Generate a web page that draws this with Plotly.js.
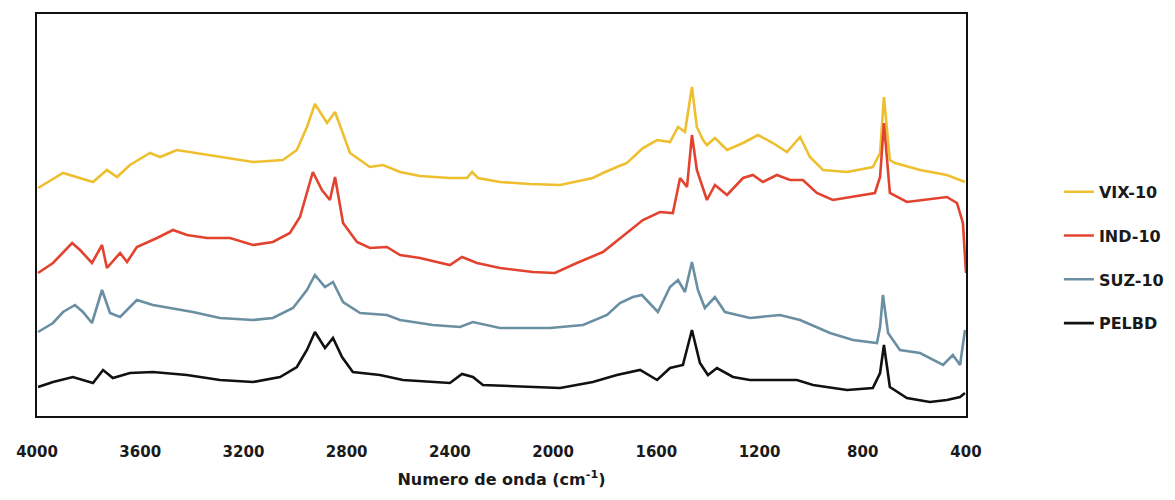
<!DOCTYPE html>
<html>
<head>
<meta charset="utf-8">
<script src="https://cdn.plot.ly/plotly-3.0.1.min.js"></script>
<style>
  html, body { margin: 0; padding: 0; background: #ffffff; }
  #chart { width: 1175px; height: 500px; }
</style>
</head>
<body>
<div id="chart"></div>
<script>
// FTIR spectra, stacked with vertical offsets (arbitrary intensity units)

const vixWn = [3996, 3899, 3783, 3729, 3690, 3640, 3562, 3523, 3458, 3407, 3291, 3163, 3047, 2993, 2954, 2923, 2876, 2845, 2787, 2710, 2659, 2593, 2516, 2400, 2334, 2314, 2291, 2206, 2090, 1973, 1846, 1807, 1753, 1714, 1652, 1597, 1547, 1516, 1489, 1462, 1443, 1419, 1404, 1373, 1326, 1264, 1206, 1148, 1094, 1043, 1005, 954, 861, 761, 733, 718, 695, 675, 578, 474, 404];
const vixVal = [57.0, 60.75, 58.5, 61.5, 59.75, 62.75, 65.75, 64.75, 66.5, 66.0, 64.75, 63.5, 64.0, 66.5, 72.25, 78.0, 73.25, 76.0, 65.75, 62.25, 62.75, 61.0, 60.0, 59.5, 59.5, 61.0, 59.5, 58.5, 58.0, 57.75, 59.5, 60.75, 62.25, 63.25, 67.0, 69.0, 68.5, 72.25, 71.0, 82.25, 72.25, 69.0, 67.75, 69.5, 66.5, 68.25, 70.25, 68.25, 66.0, 69.75, 64.75, 61.5, 61.0, 62.25, 65.75, 79.75, 64.0, 63.25, 61.5, 60.25, 58.5];

const indWn = [3996, 3938, 3864, 3833, 3787, 3748, 3729, 3678, 3651, 3613, 3535, 3473, 3419, 3341, 3252, 3163, 3086, 3020, 2981, 2950, 2931, 2896, 2865, 2845, 2814, 2760, 2710, 2644, 2593, 2516, 2400, 2353, 2295, 2206, 2078, 1993, 1908, 1807, 1714, 1652, 1586, 1536, 1508, 1481, 1462, 1443, 1404, 1373, 1326, 1264, 1226, 1187, 1133, 1082, 1032, 978, 916, 838, 753, 733, 718, 695, 629, 567, 474, 435, 412, 400];
const indVal = [35.75, 38.25, 43.25, 41.5, 38.25, 42.75, 37.0, 40.75, 38.5, 42.25, 44.5, 46.5, 45.25, 44.5, 44.5, 42.75, 43.5, 45.75, 49.75, 56.5, 61.0, 56.5, 54.0, 59.75, 48.25, 43.5, 42.0, 42.25, 40.25, 39.5, 37.75, 39.75, 38.25, 37.0, 36.0, 35.75, 38.25, 41.0, 45.75, 49.0, 51.0, 50.75, 59.5, 57.25, 70.25, 61.5, 54.0, 57.75, 55.25, 59.5, 60.25, 58.5, 60.25, 59.0, 59.0, 55.75, 54.0, 54.75, 55.75, 59.75, 73.25, 55.75, 53.5, 54.0, 54.75, 53.25, 48.25, 35.75];

const suzWn = [3996, 3938, 3899, 3853, 3822, 3787, 3748, 3717, 3678, 3640, 3613, 3551, 3485, 3396, 3291, 3163, 3086, 3008, 2954, 2923, 2884, 2853, 2814, 2748, 2644, 2593, 2466, 2361, 2311, 2206, 2012, 1884, 1791, 1741, 1691, 1656, 1594, 1547, 1516, 1489, 1462, 1439, 1412, 1373, 1334, 1237, 1121, 1043, 927, 838, 745, 733, 722, 702, 656, 578, 489, 451, 423, 404];
const suzVal = [21.0, 23.25, 26.0, 27.75, 26.0, 23.25, 31.5, 25.75, 24.75, 27.25, 29.0, 27.75, 27.0, 26.0, 24.5, 24.0, 24.5, 27.0, 31.5, 35.25, 32.25, 33.5, 28.5, 25.75, 25.25, 24.0, 22.75, 22.25, 23.5, 22.0, 22.0, 22.75, 25.25, 28.25, 29.75, 30.25, 26.0, 32.25, 34.0, 31.0, 38.5, 31.5, 27.0, 29.75, 26.0, 24.5, 25.25, 24.0, 20.75, 19.0, 18.25, 22.25, 30.25, 20.75, 16.5, 15.75, 12.75, 15.25, 12.75, 21.5];

const pelbdWn = [3996, 3938, 3861, 3783, 3744, 3706, 3640, 3551, 3419, 3291, 3163, 3058, 2993, 2954, 2923, 2884, 2853, 2818, 2776, 2671, 2582, 2400, 2353, 2311, 2272, 2078, 1973, 1846, 1753, 1663, 1597, 1547, 1497, 1462, 1431, 1400, 1365, 1303, 1237, 1055, 993, 861, 761, 733, 718, 695, 629, 540, 474, 423, 404];
const pelbdVal = [7.25, 8.5, 9.75, 8.25, 11.5, 9.5, 10.75, 11.0, 10.25, 9.0, 8.5, 9.75, 12.25, 16.5, 21.0, 17.0, 19.5, 14.75, 11.0, 10.25, 9.0, 8.25, 10.5, 9.75, 7.75, 7.25, 7.0, 8.5, 10.25, 11.5, 9.0, 12.0, 12.75, 21.5, 13.25, 10.25, 12.0, 9.75, 9.0, 9.0, 7.75, 6.5, 7.0, 10.75, 17.75, 7.25, 4.5, 3.5, 4.0, 4.75, 5.75];

const seriesNames = ["VIX-10", "IND-10", "SUZ-10", "PELBD"];
const seriesColors = ["#EEBF2E", "#E2432F", "#6A8EA2", "#111111"];
const xTicks = [4000, 3600, 3200, 2800, 2400, 2000, 1600, 1200, 800, 400];

const xs = [vixWn, indWn, suzWn, pelbdWn];
const ys = [vixVal, indVal, suzVal, pelbdVal];

const traces = seriesNames.map((name, i) => ({
  type: "scatter",
  mode: "lines",
  name: name,
  legendgroup: name,
  x: xs[i],
  y: ys[i],
  line: { color: seriesColors[i], width: 2.6 },
  hoverinfo: "x+y+name"
}));

const boldFont = { family: "DejaVu Sans, Liberation Sans, sans-serif", color: "#1a1a1a", weight: "bold" };

const layout = {
  width: 1175,
  height: 500,
  margin: { l: 37, r: 209, t: 14, b: 84, autoexpand: false },
  paper_bgcolor: "#ffffff",
  plot_bgcolor: "#ffffff",
  showlegend: true,
  legend: {
    x: 1.1, xanchor: "left",
    y: 0.6, yanchor: "top",
    traceorder: "grouped",
    tracegroupgap: 20,
    font: Object.assign({ size: 16 }, boldFont),
    bgcolor: "rgba(0,0,0,0)"
  },
  xaxis: {
    range: [4000, 400],
    tickmode: "array",
    tickvals: xTicks,
    ticktext: xTicks.map(String),
    ticks: "",
    ticklabelstandoff: 21,
    tickfont: Object.assign({ size: 15 }, boldFont),
    showgrid: false,
    zeroline: false,
    showline: true,
    linecolor: "#111111",
    linewidth: 2,
    mirror: true,
    title: {
      text: "Numero de onda (cm<sup>-1</sup>)",
      font: Object.assign({ size: 16 }, boldFont),
      standoff: 14
    }
  },
  yaxis: {
    range: [0, 100.5],
    showticklabels: false,
    ticks: "",
    showgrid: false,
    zeroline: false,
    showline: true,
    linecolor: "#111111",
    linewidth: 2,
    mirror: true
  }
};

Plotly.newPlot("chart", traces, layout, { displayModeBar: false, staticPlot: true });
</script>
</body>
</html>
